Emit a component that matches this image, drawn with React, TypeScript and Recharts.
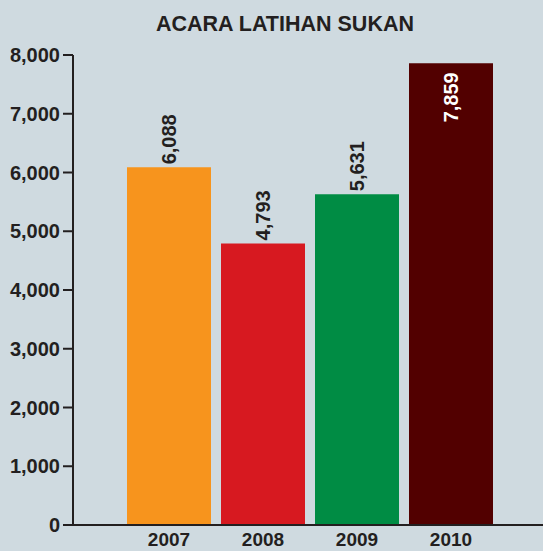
import { Bar, BarChart, Cell, LabelList, XAxis, YAxis } from "recharts"

const years = ["2007", "2008", "2009", "2010"]
const participants = [6088, 4793, 5631, 7859]
const barColors = ["#f7941d", "#d71920", "#008c44", "#520000"]
const yTicks = [0, 1000, 2000, 3000, 4000, 5000, 6000, 7000, 8000]

const data = years.map((year, i) => ({ year, value: participants[i] }))

const BG = "#cfdae0"
const INK = "#231f20"
const FONT = "'Liberation Sans', Arial, sans-serif"
const NARROW = "'Liberation Sans Narrow', 'Arial Narrow', 'Liberation Sans', sans-serif"

// rotated value label; goes inside the bar when it would hit the top
const ValueLabel = (props: any) => {
  const { x, y, width, value } = props
  const cx = x + width / 2
  const inside = value > 7500
  const py = inside ? y + 9 : y - 3
  return (
    <text
      x={cx}
      y={py}
      transform={`rotate(-90, ${cx}, ${py})`}
      textAnchor={inside ? "end" : "start"}
      dominantBaseline="central"
      fill={inside ? "#ffffff" : INK}
      fontFamily={NARROW}
      fontWeight="bold"
      fontSize={20}
    >
      {Number(value).toLocaleString("en-US")}
    </text>
  )
}

export default function App() {
  return (
    <div style={{ position: "fixed", left: 0, top: 0, width: 543, height: 551, background: BG, overflow: "hidden" }}>
      <div
        style={{
          position: "absolute",
          left: 0,
          top: 12,
          width: 570,
          textAlign: "center",
          fontFamily: FONT,
          fontWeight: "bold",
          fontSize: 21.5,
          color: INK,
        }}
      >
        ACARA LATIHAN SUKAN
      </div>
      <BarChart width={543} height={551} data={data} margin={{ top: 55, right: 0, left: 0, bottom: 0 }} barSize={84}>
        <XAxis
          dataKey="year"
          height={26}
          padding={{ left: 49, right: 45 }}
          axisLine={{ stroke: INK, strokeWidth: 2 }}
          tickLine={false}
          tickSize={0}
          tickMargin={8}
          tick={{ fill: INK, fontFamily: NARROW, fontWeight: "bold", fontSize: 19 }}
        />
        <YAxis
          width={73}
          domain={[0, 8000]}
          ticks={yTicks}
          interval={0}
          tickFormatter={(v) => Number(v).toLocaleString("en-US")}
          axisLine={{ stroke: INK, strokeWidth: 2 }}
          tickLine={{ stroke: INK, strokeWidth: 2 }}
          tickSize={10}
          tickMargin={3}
          tick={{ fill: INK, fontFamily: NARROW, fontWeight: "bold", fontSize: 20 }}
        />
        <Bar dataKey="value" isAnimationActive={false}>
          {data.map((d, i) => (
            <Cell key={d.year} fill={barColors[i]} />
          ))}
          <LabelList dataKey="value" content={ValueLabel} />
        </Bar>
      </BarChart>
    </div>
  )
}
